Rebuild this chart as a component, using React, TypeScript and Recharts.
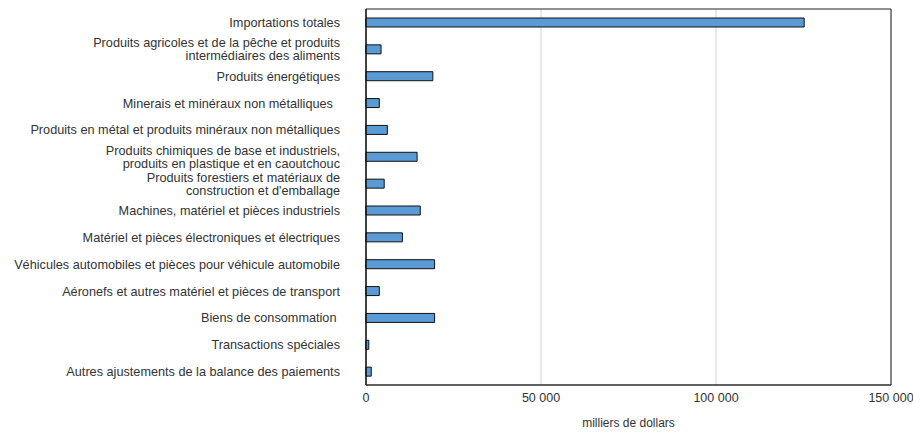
import React from "react";
import {
  BarChart,
  Bar,
  XAxis,
  YAxis,
  CartesianGrid,
  ReferenceArea,
} from "recharts";

// Categories (line breaks as in the source chart)
const categories = [
  "Importations totales",
  "Produits agricoles et de la pêche et produits\nintermédiaires des aliments",
  "Produits énergétiques",
  "Minerais et minéraux non métalliques\u00a0\u00a0",
  "Produits en métal et produits minéraux non métalliques",
  "Produits chimiques de base et industriels,\nproduits en plastique et en caoutchouc",
  "Produits forestiers et matériaux de\nconstruction et d'emballage",
  "Machines, matériel et pièces industriels",
  "Matériel et pièces électroniques et électriques",
  "Véhicules automobiles et pièces pour véhicule automobile",
  "Aéronefs et autres matériel et pièces de transport",
  "Biens de consommation\u00a0",
  "Transactions spéciales",
  "Autres ajustements de la balance des paiements",
];

// milliers de dollars
const values = [
  125200, 4300, 19100, 3800, 6100, 14600, 5200, 15500, 10400, 19600, 3800,
  19600, 800, 1500,
];

const xTicks = [0, 50000, 100000, 150000];

const FONT = "'Liberation Sans', Arial, sans-serif";

const data = categories.map((name, i) => ({ name, value: values[i] }));

const formatThousands = (v: number) =>
  v.toString().replace(/\B(?=(\d{3})+(?!\d))/g, " ");

// multi-line, right-aligned category labels
const CategoryTick = (props: any) => {
  const { x, y, payload } = props;
  const lines: string[] = String(payload.value).split("\n");
  const lineH = 13;
  const startY = y + 0.5 - ((lines.length - 1) * lineH) / 2;
  const tx = x - 18;
  return (
    <text
      x={tx}
      y={startY}
      textAnchor="end"
      fill="#333"
      fontSize={12.7}
      fontFamily={FONT}
      dominantBaseline="central"
    >
      {lines.map((line, i) => (
        <tspan key={i} x={tx} y={startY + i * lineH}>
          {line}
        </tspan>
      ))}
    </text>
  );
};

export default function App() {
  return (
    <div
      style={{
        position: "absolute",
        left: 0,
        top: 0,
        width: 913,
        height: 433,
        background: "#fff",
        fontFamily: FONT,
      }}
    >
      <BarChart
        width={913}
        height={433}
        data={data}
        layout="vertical"
        margin={{ top: 9, right: 22, left: 0, bottom: 0 }}
        barCategoryGap={0}
      >
        <CartesianGrid horizontal={false} stroke="#e2e2e2" strokeWidth={1.5} />
        <XAxis
          type="number"
          domain={[0, 150000]}
          ticks={xTicks}
          tickFormatter={formatThousands}
          tickLine={false}
          tickSize={6}
          axisLine={{ stroke: "#333" }}
          height={48}
          tick={{ fill: "#333", fontSize: 12.5, fontFamily: FONT }}
          label={{
            value: "milliers de dollars",
            position: "insideBottom",
            offset: 6,
            fill: "#333",
            fontSize: 12,
            fontFamily: FONT,
          }}
        />
        <YAxis
          type="category"
          dataKey="name"
          width={366}
          tickLine={false}
          axisLine={{ stroke: "#000" }}
          interval={0}
          tick={<CategoryTick />}
        />
        <ReferenceArea
          x1={0}
          x2={150000}
          fill="none"
          stroke="#222"
          strokeWidth={1}
          ifOverflow="visible"
        />
        <Bar
          dataKey="value"
          fill="#5b9bd5"
          stroke="#111"
          strokeWidth={1}
          barSize={9}
          isAnimationActive={false}
        />
      </BarChart>
    </div>
  );
}
